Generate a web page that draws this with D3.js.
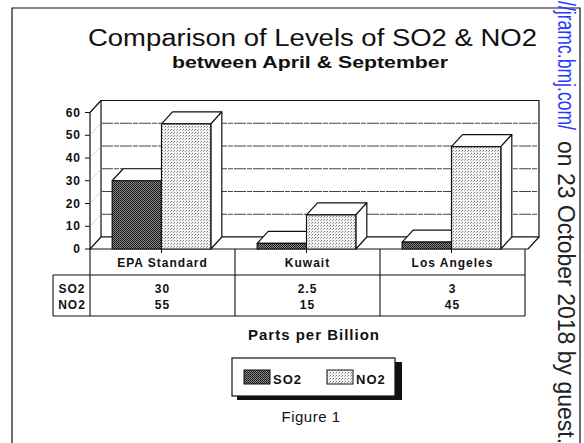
<!DOCTYPE html>
<html>
<head>
<meta charset="utf-8">
<script src="https://cdn.jsdelivr.net/npm/d3@7"></script>
<style>
  body { margin: 0; background: #fff; }
  svg { display: block; font-family: "Liberation Sans", Arial, sans-serif; }
</style>
</head>
<body>
<div id="chart"></div>
<script>
const width = 584;
const height = 443;

// data
const categories = ['EPA Standard', 'Kuwait', 'Los Angeles'];
const seriesNames = ['SO2', 'NO2'];
const so2Values = [30, 2.5, 3];
const no2Values = [55, 15, 45];
const so2Labels = ['30', '2.5', '3'];
const no2Labels = ['55', '15', '45'];
const yTicks = [0, 10, 20, 30, 40, 50, 60];

const svg = d3.select('#chart').append('svg').attr('width', width).attr('height', height);
const defs = svg.append('defs');

// scanned stipple fills
const pDark = defs.append('pattern').attr('id', 'pat-so2')
  .attr('width', 2).attr('height', 2).attr('patternUnits', 'userSpaceOnUse');
pDark.append('rect').attr('width', 2).attr('height', 2).attr('fill', '#8a8a8a');
pDark.append('rect').attr('width', 1).attr('height', 1).attr('fill', '#111');
pDark.append('rect').attr('x', 1).attr('y', 1).attr('width', 1).attr('height', 1).attr('fill', '#222');

const pLight = defs.append('pattern').attr('id', 'pat-no2')
  .attr('width', 3).attr('height', 3).attr('patternUnits', 'userSpaceOnUse');
pLight.append('rect').attr('width', 3).attr('height', 3).attr('fill', '#f4f4f4');
pLight.append('rect').attr('width', 1).attr('height', 1).attr('fill', '#777');
pLight.append('rect').attr('x', 2).attr('y', 1).attr('width', 1).attr('height', 1).attr('fill', '#aaa');
const fills = {SO2: 'url(#pat-so2)', NO2: 'url(#pat-no2)'};

// outer page frame
svg.append('path').attr('d', 'M12,450V8H580V450')
  .attr('fill', 'none').attr('stroke', '#111').attr('stroke-width', 1.2);

// titles
svg.append('text').attr('x', 88).attr('y', 46)
  .attr('font-size', 23).attr('textLength', 449).attr('lengthAdjust', 'spacingAndGlyphs')
  .attr('fill', '#111')
  .text('Comparison of Levels of SO2 & NO2');
svg.append('text').attr('x', 172).attr('y', 68)
  .attr('font-size', 17).attr('font-weight', 'bold')
  .attr('textLength', 276).attr('lengthAdjust', 'spacingAndGlyphs').attr('fill', '#111')
  .text('between April & September');

// scales
const y = d3.scaleLinear().domain([0, 60]).range([249, 112.5]);
const x0 = d3.scaleBand().domain(categories).range([90, 525]);
const x1 = d3.scaleBand().domain(seriesNames).range([0, x0.bandwidth()]).paddingOuter(0.47);
const dx = 11, dy = -12;
const left = 90, right = 528;

const g = svg.append('g').attr('stroke', '#111').attr('stroke-linejoin', 'round');

// back wall
g.append('rect').attr('x', left + dx).attr('y', y(60) + dy)
  .attr('width', right - left).attr('height', y(0) - y(60))
  .attr('fill', '#fff').attr('stroke-width', 1.2);
// grid lines on back wall
g.selectAll('.grid').data(yTicks.slice(1, -1)).enter().append('line')
  .attr('x1', left + dx).attr('x2', right + dx)
  .attr('y1', d => y(d) + dy).attr('y2', d => y(d) + dy)
  .attr('stroke', '#444').attr('stroke-dasharray', '12,1,5,1');
// left side wall
g.append('path')
  .attr('d', `M${left},${y(0)}L${left},${y(60)}L${left + dx},${y(60) + dy}`)
  .attr('fill', 'none').attr('stroke-width', 1.2);
g.selectAll('.sidegrid').data(yTicks.slice(1, -1)).enter().append('line')
  .attr('x1', left).attr('x2', left + dx)
  .attr('y1', d => y(d)).attr('y2', d => y(d) + dy)
  .attr('stroke', '#bbb').attr('stroke-width', 0.6);
// floor
g.append('path')
  .attr('d', `M${left},${y(0)}L${right},${y(0)}L${right + dx},${y(0) + dy}L${left + dx},${y(0) + dy}Z`)
  .attr('fill', '#fff').attr('stroke-width', 1.2);

// y axis ticks and labels
g.selectAll('.tick').data(yTicks).enter().append('line')
  .attr('x1', left - 5).attr('x2', left).attr('y1', d => y(d)).attr('y2', d => y(d));
svg.selectAll('.ylab').data(yTicks).enter().append('text')
  .attr('x', 81).attr('y', d => y(d) + 4).attr('text-anchor', 'end')
  .attr('font-size', 12).attr('font-weight', 'bold').attr('letter-spacing', 1).attr('fill', '#111')
  .text(d => d);

// bars: front face, top, right side
const bars = [];
categories.forEach((c, i) => {
  bars.push({cat: c, s: 'SO2', v: so2Values[i]});
  bars.push({cat: c, s: 'NO2', v: no2Values[i]});
});
bars.forEach(b => {
  const bx = x0(b.cat) + x1(b.s) - 1;
  const bw = x1.bandwidth();
  const top = y(b.v), bot = y(0);
  const bg = g.append('g');
  bg.append('path')
    .attr('d', `M${bx},${top}L${bx + dx},${top + dy}L${bx + bw + dx},${top + dy}L${bx + bw},${top}Z`)
    .attr('fill', '#fff').attr('stroke-width', 1.2);
  bg.append('path')
    .attr('d', `M${bx + bw},${top}L${bx + bw + dx},${top + dy}L${bx + bw + dx},${bot + dy}L${bx + bw},${bot}Z`)
    .attr('fill', '#fff').attr('stroke-width', 1.2);
  bg.append('rect').attr('x', bx).attr('y', top).attr('width', bw).attr('height', bot - top)
    .attr('fill', fills[b.s]).attr('stroke-width', 1.2);
});

// small ticks under bars
g.selectAll('.btick').data(categories).enter().append('line')
  .attr('x1', d => x0(d) + x0.bandwidth() / 2 - 1).attr('x2', d => x0(d) + x0.bandwidth() / 2 - 1)
  .attr('y1', y(0)).attr('y2', y(0) + 4);

// data table
const rowTop = 275, rowBot = 316;
const table = svg.append('g').attr('stroke', '#111').attr('stroke-width', 1.1);
table.append('line').attr('x1', 53).attr('x2', 525).attr('y1', rowTop).attr('y2', rowTop);
table.append('line').attr('x1', 53).attr('x2', 525).attr('y1', rowBot).attr('y2', rowBot);
table.append('line').attr('x1', 53).attr('x2', 53).attr('y1', rowTop).attr('y2', rowBot);
table.selectAll('.vdiv').data(categories.concat(['end'])).enter().append('line')
  .attr('x1', (d, i) => i < 3 ? x0(d) : 525).attr('x2', (d, i) => i < 3 ? x0(d) : 525)
  .attr('y1', y(0)).attr('y2', rowBot);

const tt = svg.append('g').attr('font-size', 12).attr('font-weight', 'bold')
  .attr('letter-spacing', 1).attr('fill', '#111').attr('text-anchor', 'middle');
tt.selectAll('.cat').data(categories).enter().append('text')
  .attr('x', d => x0(d) + x0.bandwidth() / 2).attr('y', 267).text(d => d);
tt.selectAll('.so2').data(so2Labels).enter().append('text')
  .attr('x', (d, i) => x0(categories[i]) + x0.bandwidth() / 2).attr('y', 293).text(d => d);
tt.selectAll('.no2').data(no2Labels).enter().append('text')
  .attr('x', (d, i) => x0(categories[i]) + x0.bandwidth() / 2).attr('y', 309).text(d => d);
tt.selectAll('.rlab').data(seriesNames).enter().append('text')
  .attr('x', 72).attr('y', (d, i) => i ? 309 : 293).text(d => d);

// x title
svg.append('text').attr('x', 314).attr('y', 340).attr('text-anchor', 'middle')
  .attr('font-size', 15).attr('font-weight', 'bold').attr('letter-spacing', 1).attr('fill', '#111')
  .text('Parts per Billion');

// legend with drop shadow
const lg = svg.append('g');
lg.append('rect').attr('x', 237).attr('y', 362).attr('width', 165).attr('height', 38).attr('fill', '#111');
lg.append('rect').attr('x', 232).attr('y', 358).attr('width', 163).attr('height', 38)
  .attr('fill', '#fff').attr('stroke', '#111').attr('stroke-width', 1.2);
const legendX = [244, 327];
seriesNames.forEach((s, i) => {
  lg.append('rect').attr('x', legendX[i]).attr('y', 370).attr('width', 26).attr('height', 14)
    .attr('fill', fills[s]).attr('stroke', '#111');
  lg.append('text').attr('x', legendX[i] + 29).attr('y', 384)
    .attr('font-size', 13).attr('font-weight', 'bold').attr('letter-spacing', 1)
    .attr('fill', '#111').text(s);
});

svg.append('text').attr('x', 311).attr('y', 422).attr('text-anchor', 'middle')
  .attr('font-size', 15).attr('letter-spacing', 0.5).attr('fill', '#111').text('Figure 1');

// scan margin note, rotated
const note = svg.append('g').attr('transform', 'translate(558,0) rotate(90)')
  .attr('font-size', 23);
note.append('text').attr('x', 1).attr('y', 0)
  .attr('textLength', 129).attr('lengthAdjust', 'spacingAndGlyphs')
  .attr('fill', '#2a3bff').text('//jramc.bmj.com/');
note.append('text').attr('x', 141).attr('y', 0)
  .attr('fill', '#222').text('on 23 October 2018 by guest.');
</script>
</body>
</html>
